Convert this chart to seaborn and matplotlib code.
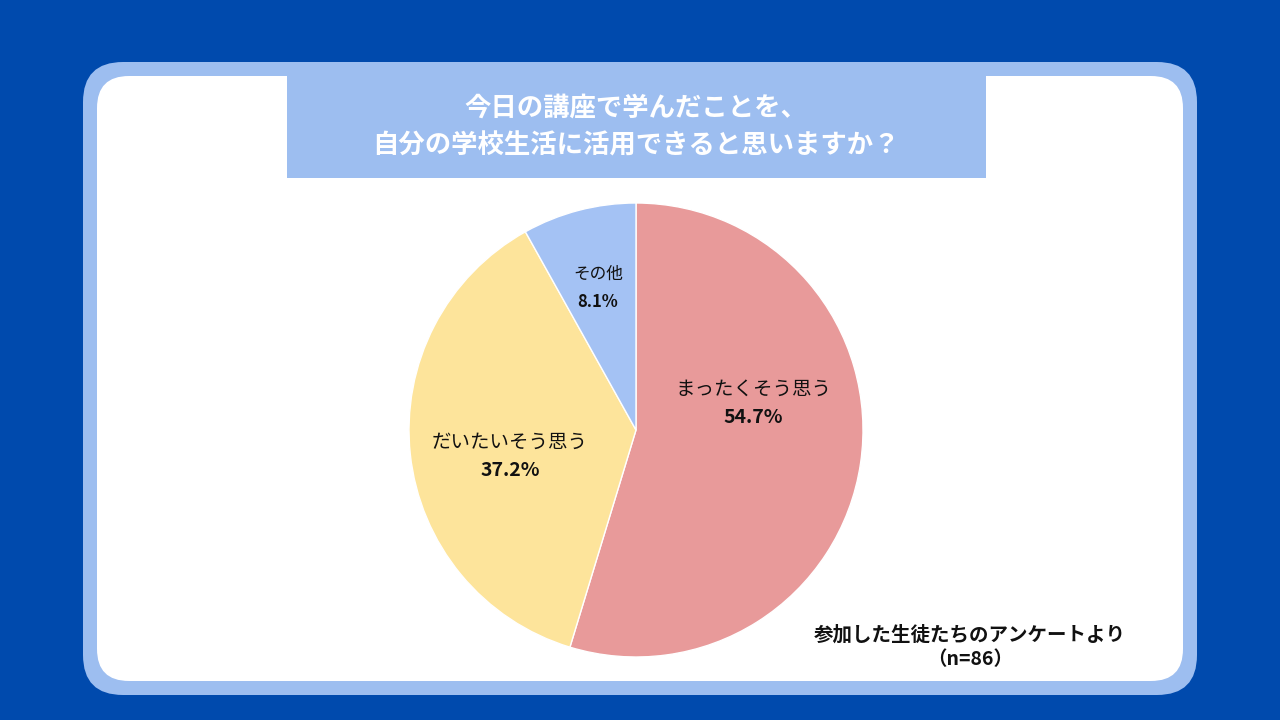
import matplotlib
matplotlib.use("Agg")
import matplotlib.pyplot as plt
import seaborn as sns
from matplotlib.patches import FancyBboxPatch, Rectangle

sns.set_theme(style="white")
plt.rcParams['font.family'] = ['Noto Sans CJK JP', 'DejaVu Sans']

categories = ["まったくそう思う", "だいたいそう思う", "その他"]
values = [54.7, 37.2, 8.1]
colors = ["#E89A9A", "#FDE49B", "#A4C2F4"]
title = "今日の講座で学んだことを、\n自分の学校生活に活用できると思いますか？"
note = "参加した生徒たちのアンケートより\n（n=86）"

W, H = 1280, 720
fig = plt.figure(figsize=(W/100, H/100), dpi=100)
fig.patch.set_facecolor("#004AAD")
bg = fig.add_axes([0, 0, 1, 1]); bg.set_xlim(0, W); bg.set_ylim(H, 0); bg.axis("off")
bg.add_patch(FancyBboxPatch((83+40, 62+40), 1114-80, 633-80, boxstyle="round,pad=40",
                            fc="#9DBEF0", ec="none"))
bg.add_patch(FancyBboxPatch((97+32, 76+32), 1086-64, 605-64, boxstyle="round,pad=32",
                            fc="white", ec="none"))
bg.add_patch(Rectangle((287, 76), 699, 102, fc="#9DBEF0", ec="none"))
bg.text(636, 127, title, ha="center", va="center", fontsize=19, fontweight="bold",
        color="white", linespacing=1.5)
bg.text(970, 647, note, ha="center", va="center", fontsize=14, fontweight="bold",
        color="#111111", linespacing=1.4)

cx, cy, r = 636, 430, 227
ax = fig.add_axes([(cx-r)/W, 1-(cy+r)/H, 2*r/W, 2*r/H])
ax.pie(values, colors=colors, startangle=90, counterclock=False,
       wedgeprops=dict(linewidth=1, edgecolor="white"))
ax.set_xlim(-1, 1); ax.set_ylim(-1, 1)
ax.set_aspect("equal")

lab_pos = [(753, 403), (510, 456), (598, 288)]
sizes = [14, 14, 12]
for (x, y), c, v, s in zip(lab_pos, categories, values, sizes):
    fig.text(x/W, 1-(y-14)/H, c, ha="center", va="center", fontsize=s, color="#111111")
    fig.text(x/W, 1-(y+14)/H, f"{v}%", ha="center", va="center", fontsize=s,
             fontweight="bold", color="#111111")

fig.savefig("out.png", dpi=100, facecolor=fig.get_facecolor())
